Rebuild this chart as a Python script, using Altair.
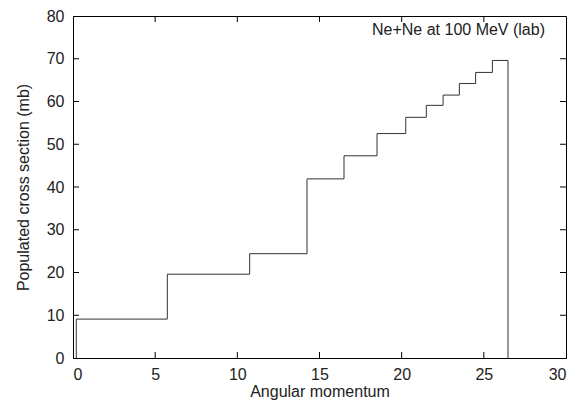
import altair as alt
import pandas as pd

# Bin edges (angular momentum) and populated cross sections (mb)
edges = [0.2, 5.74, 10.75, 14.24, 16.49, 18.5, 20.25, 21.5, 22.52, 23.51, 24.5, 25.52, 26.47]
levels = [9.1, 19.6, 24.4, 41.9, 47.3, 52.5, 56.3, 59.1, 61.5, 64.2, 66.8, 69.6]
x_ticks = [0, 5, 10, 15, 20, 25, 30]
y_ticks = [0, 10, 20, 30, 40, 50, 60, 70, 80]

xs = [edges[0]] + edges[:-1] + [edges[-1]]
ys = [0] + levels + [0]
df = pd.DataFrame({"j": xs, "sigma": ys, "o": list(range(len(xs)))})

W, H = 493, 342
FONT = "Liberation Sans"
FS = 16
TL = 6

xscale = alt.Scale(domain=[0, 30], nice=False, zero=False)
yscale = alt.Scale(domain=[0, 80], nice=False)

line = alt.Chart(df).mark_line(interpolate="step-after", color="#333333", strokeWidth=1).encode(
    x=alt.X("j:Q", scale=xscale,
            axis=alt.Axis(title="Angular momentum", values=x_ticks, ticks=False, grid=False,
                          labelPadding=8, titlePadding=1, domainColor="black")),
    y=alt.Y("sigma:Q", scale=yscale,
            axis=alt.Axis(title="Populated cross section (mb)", values=y_ticks, ticks=False, grid=False,
                          labelPadding=9, titlePadding=15, domainColor="black")),
    order="o:Q",
)

xt = pd.DataFrame({"t": x_ticks[1:-1]})
yt = pd.DataFrame({"t": y_ticks[1:-1]})

xb = alt.Chart(xt).mark_rule(color="black", strokeWidth=1).encode(
    x=alt.X("t:Q", scale=xscale), y=alt.value(H), y2=alt.value(H - TL))
xtp = alt.Chart(xt).mark_rule(color="black", strokeWidth=1).encode(
    x=alt.X("t:Q", scale=xscale), y=alt.value(0), y2=alt.value(TL))
yl = alt.Chart(yt).mark_rule(color="black", strokeWidth=1).encode(
    y=alt.Y("t:Q", scale=yscale), x=alt.value(0), x2=alt.value(TL))
yr = alt.Chart(yt).mark_rule(color="black", strokeWidth=1).encode(
    y=alt.Y("t:Q", scale=yscale), x=alt.value(W), x2=alt.value(W - TL))

label = alt.Chart(pd.DataFrame({"txt": ["Ne+Ne at 100 MeV (lab)"]})).mark_text(
    align="right", baseline="alphabetic", fontSize=FS, font=FONT, color="#222222"
).encode(x=alt.value(W - 21), y=alt.value(19), text="txt:N")

chart = alt.layer(line, xb, xtp, yl, yr, label).properties(
    width=W, height=H,
    autosize=alt.AutoSizeParams(type="none"),
    padding={"left": 65, "top": 8, "right": 14, "bottom": 42},
).configure_view(stroke="black", strokeWidth=1).configure_axis(
    labelFont=FONT, titleFont=FONT, labelFontSize=FS, titleFontSize=FS,
    labelColor="#222222", titleColor="#222222", titleFontWeight="normal", domainWidth=1
)

chart.save("out.html", embed_options={"renderer": "svg", "actions": False})
